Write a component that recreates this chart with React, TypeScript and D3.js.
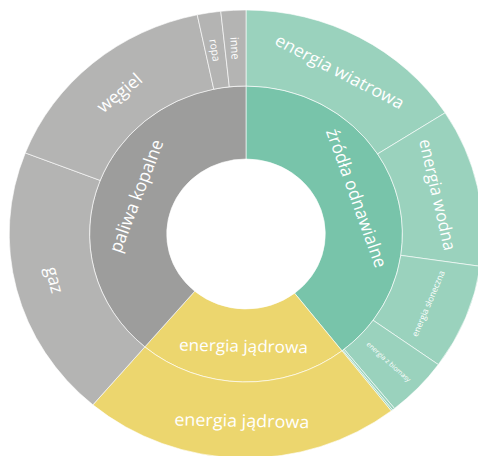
import React, { useEffect, useRef } from "react";
import * as d3 from "d3";

// inner ring
const groups = ["źródła odnawialne", "energia jądrowa", "paliwa kopalne"];
// outer ring (share of total, %)
const sources = [
  "energia wiatrowa",
  "energia wodna",
  "energia słoneczna",
  "energia z biomasy",
  "energia geotermalna",
  "pozostałe OZE",
  "energia jądrowa",
  "gaz",
  "węgiel",
  "ropa",
  "inne",
];
const sourceGroups = [
  "źródła odnawialne",
  "źródła odnawialne",
  "źródła odnawialne",
  "źródła odnawialne",
  "źródła odnawialne",
  "źródła odnawialne",
  "energia jądrowa",
  "paliwa kopalne",
  "paliwa kopalne",
  "paliwa kopalne",
  "paliwa kopalne",
];
const sourceValues = [15.9, 11.4, 7.6, 4.3, 0.17, 0.11, 21.7, 19.7, 15.8, 1.6, 1.7];

const innerColors = ["#78c4aa", "#ecd66e", "#9d9d9c"];
const outerColors = ["#9ad2bd", "#ecd66e", "#b4b4b3"];

type Node = { name: string; value?: number; children?: Node[] };

const App = () => {
  const ref = useRef<SVGSVGElement>(null);

  useEffect(() => {
    const width = 478;
    const height = 456;
    const cx = 246;
    const cy = 234;

    const svg = d3.select(ref.current);
    svg.selectAll("*").remove();

    const data: Node = {
      name: "root",
      children: groups.map((g) => ({
        name: g,
        children: sources
          .map((s, i) => ({ name: s, value: sourceValues[i], group: sourceGroups[i] }))
          .filter((d) => d.group === g)
          .map((d) => ({ name: d.name, value: d.value })),
      })),
    };

    const root = d3.hierarchy<Node>(data).sum((d) => d.value || 0);
    d3.partition<Node>().size([2 * Math.PI, 3])(root);

    const radius = d3.scaleLinear().domain([1, 2, 3]).range([75, 148, 224]);

    const color = (d: any) => {
      const top = d.depth === 1 ? d : d.parent;
      const i = groups.indexOf(top.data.name);
      return d.depth === 1 ? innerColors[i] : outerColors[i];
    };

    const arc = d3
      .arc<any>()
      .startAngle((d) => d.x0)
      .endAngle((d) => d.x1)
      .innerRadius((d) => radius(d.y0))
      .outerRadius((d) => radius(d.y1));

    const g = svg
      .append("g")
      .attr("transform", `translate(${cx},${cy}) scale(1.057,1)`);

    const nodes = root.descendants().filter((d) => d.depth > 0);

    g.selectAll("path")
      .data(nodes)
      .join("path")
      .attr("d", arc)
      .attr("fill", color)
      .attr("stroke", "#ffffff")
      .attr("stroke-opacity", 0.75)
      .attr("stroke-width", 0.8);

    // labels: tangential where they fit, radial in narrow slices
    nodes.forEach((d: any) => {
      const mid = (d.x0 + d.x1) / 2;
      const deg = (mid * 180) / Math.PI;
      const span = d.x1 - d.x0;
      const r = (radius(d.y0) + radius(d.y1)) / 2;
      const thick = radius(d.y1) - radius(d.y0);
      const chars = d.data.name.length;
      const radial = (span * 180) / Math.PI < 20;
      let size;
      let rot;
      if (radial) {
        size = Math.min(17, (0.8 * thick) / (chars * 0.55), r * span * 0.55);
        rot = deg - 90;
        if (deg > 180) rot = deg + 90;
      } else {
        size = Math.min(17, (0.88 * r * span) / (chars * 0.55));
        rot = deg;
        if (deg > 90 && deg < 270) rot = deg - 180;
      }
      if (size < 5) return;
      g.append("text")
        .attr(
          "transform",
          `translate(${r * Math.sin(mid)},${-r * Math.cos(mid)}) rotate(${rot})`
        )
        .attr("text-anchor", "middle")
        .attr("dominant-baseline", "central")
        .attr("font-family", "'Open Sans', sans-serif")
        .attr("font-size", size)
        .attr("fill", "#ffffff")
        .text(d.data.name);
    });

    svg.attr("width", width).attr("height", height);
  }, []);

  return (
    <svg
      ref={ref}
      width={478}
      height={456}
      style={{ position: "absolute", left: 0, top: 0, display: "block" }}
    />
  );
};

export default App;
